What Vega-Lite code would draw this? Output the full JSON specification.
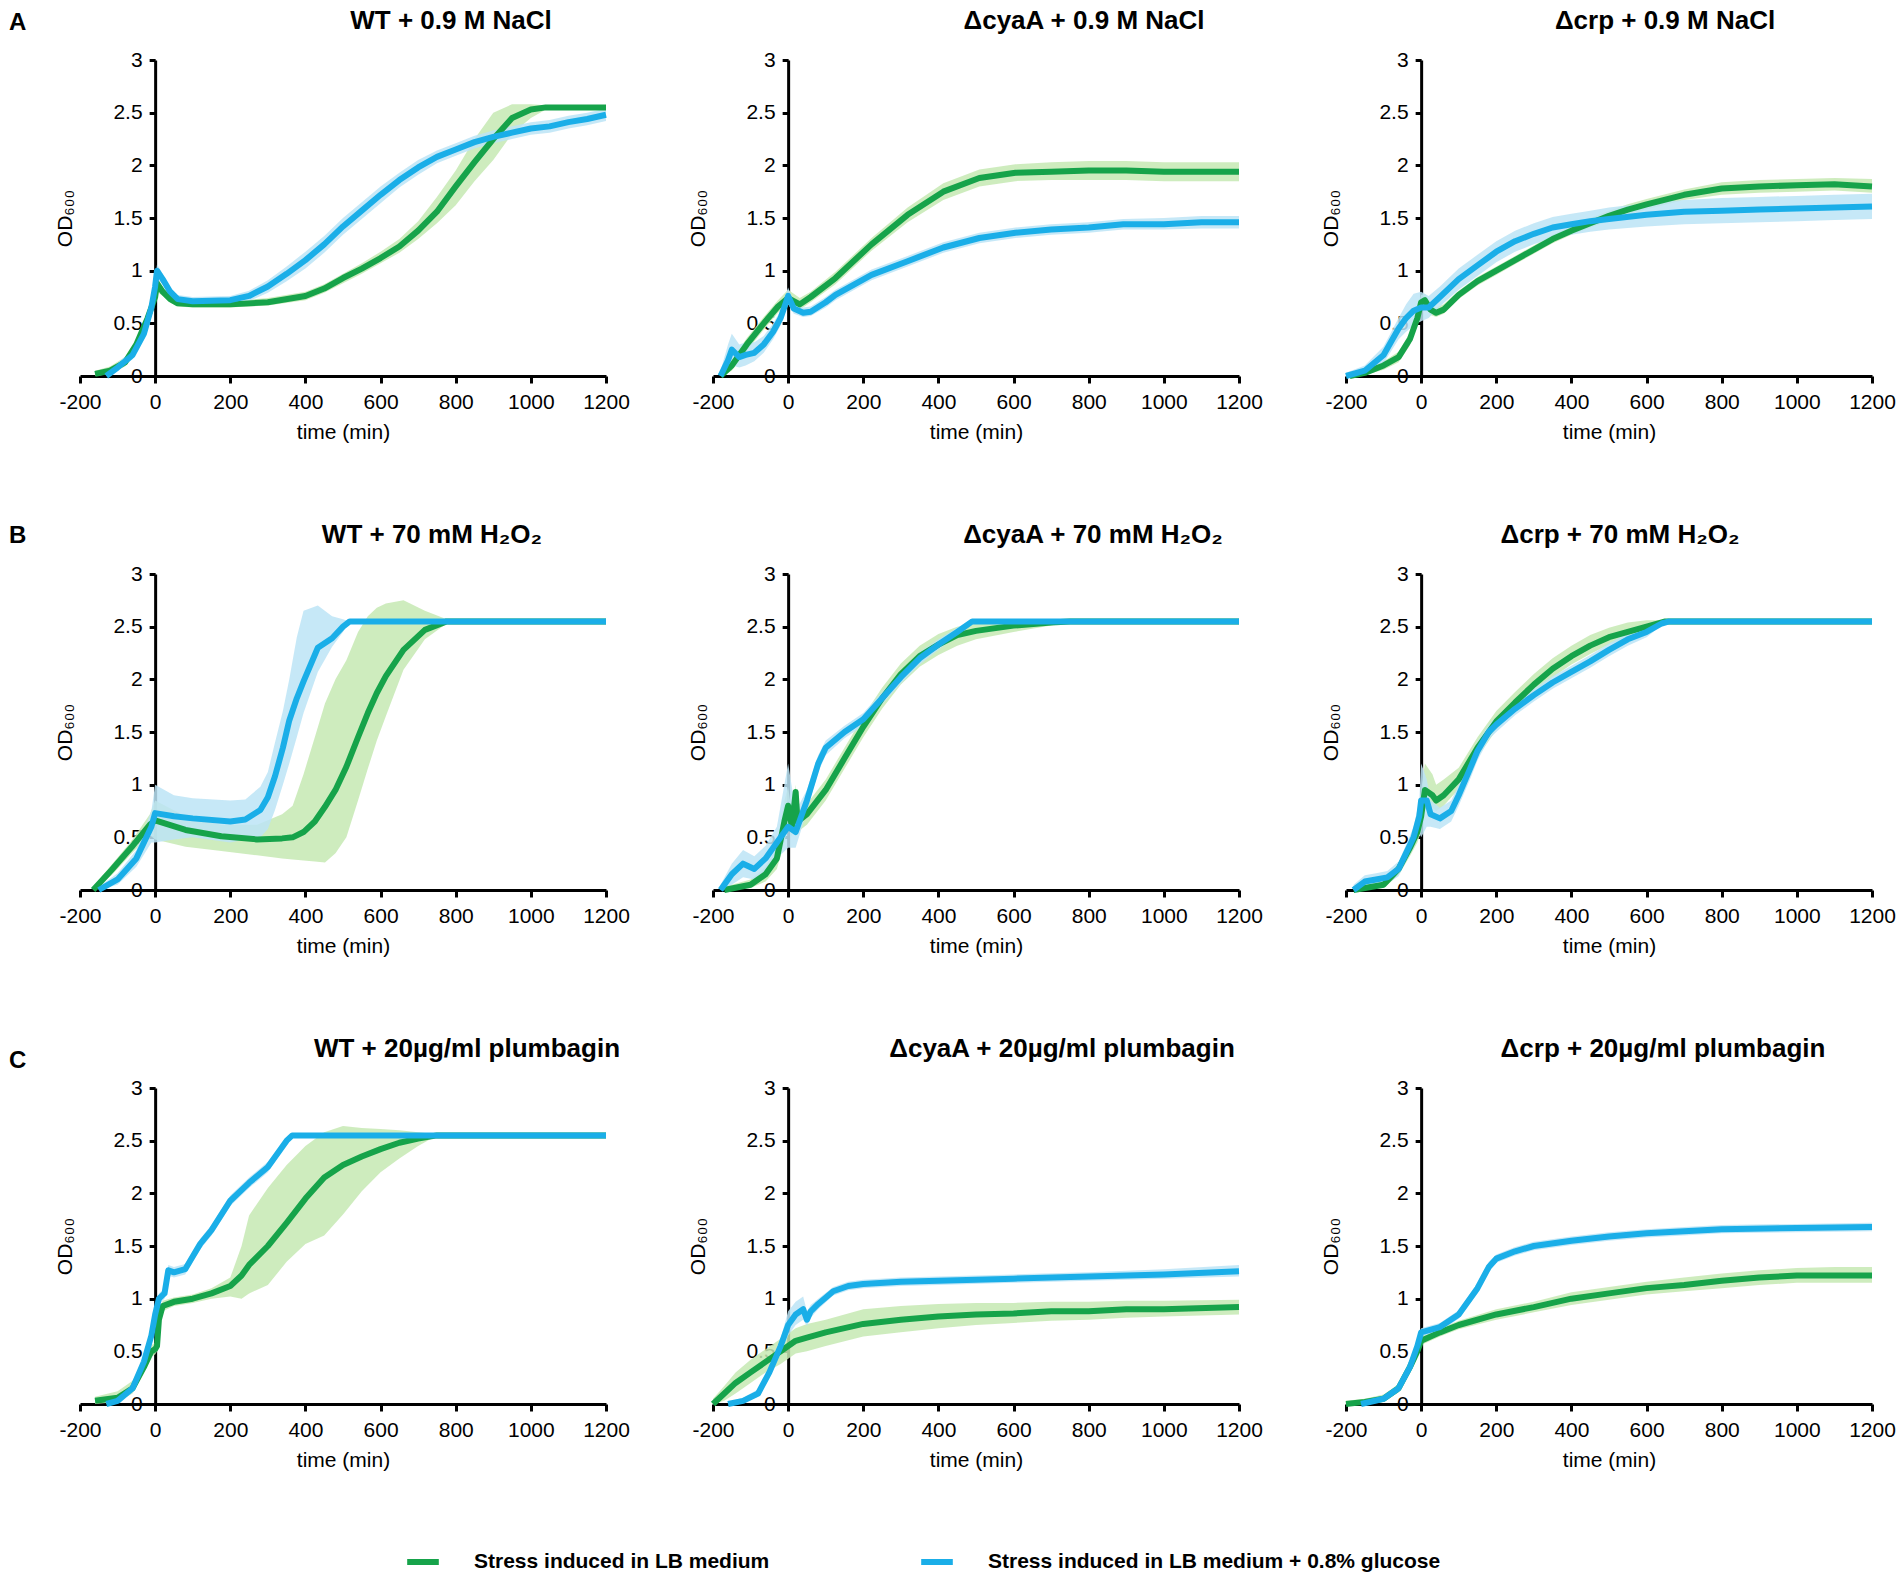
{
"$schema":"https://vega.github.io/schema/vega-lite/v6.json",
"background":"white",
"padding":{"left":9,"top":8,"right":10,"bottom":5},
"config":{
 "font":"Liberation Sans",
 "view":{"stroke":null},
 "title":{"fontSize":26,"fontWeight":"bold","color":"black","anchor":"middle","offset":15,"font":"Liberation Sans"},
 "axis":{"grid":false,"domainColor":"black","domainWidth":3,"tickColor":"black","tickWidth":3,"labelColor":"black","labelFontSize":21,"titleColor":"black","titleFontSize":21,"titleFontWeight":"normal","labelFont":"Liberation Sans","titleFont":"Liberation Sans"},
 "legend":{"orient":"none","legendX":324,"legendY":1483,"direction":"horizontal","symbolType":"stroke","symbolSize":1000,"symbolStrokeWidth":6,"labelFontSize":21,"labelFontWeight":"bold","labelColor":"black","labelLimit":700,"labelOffset":32,"columnPadding":139}
},
"data":{"values":[
{"panel":"A1","series":"LB","time":-160,"od":0.02,"lo":0,"hi":0.05},
{"panel":"A1","series":"LB","time":-120,"od":0.05,"lo":0.02,"hi":0.09},
{"panel":"A1","series":"LB","time":-80,"od":0.13,"lo":0.09,"hi":0.18},
{"panel":"A1","series":"LB","time":-50,"od":0.3,"lo":0.26,"hi":0.34},
{"panel":"A1","series":"LB","time":-20,"od":0.55,"lo":0.5,"hi":0.6},
{"panel":"A1","series":"LB","time":0,"od":0.75,"lo":0.7,"hi":0.82},
{"panel":"A1","series":"LB","time":5,"od":0.88,"lo":0.8,"hi":0.95},
{"panel":"A1","series":"LB","time":20,"od":0.8,"lo":0.76,"hi":0.84},
{"panel":"A1","series":"LB","time":40,"od":0.73,"lo":0.7,"hi":0.76},
{"panel":"A1","series":"LB","time":60,"od":0.69,"lo":0.66,"hi":0.72},
{"panel":"A1","series":"LB","time":100,"od":0.68,"lo":0.65,"hi":0.71},
{"panel":"A1","series":"LB","time":200,"od":0.68,"lo":0.65,"hi":0.71},
{"panel":"A1","series":"LB","time":300,"od":0.7,"lo":0.67,"hi":0.74},
{"panel":"A1","series":"LB","time":400,"od":0.76,"lo":0.72,"hi":0.8},
{"panel":"A1","series":"LB","time":450,"od":0.83,"lo":0.79,"hi":0.87},
{"panel":"A1","series":"LB","time":500,"od":0.93,"lo":0.88,"hi":0.97},
{"panel":"A1","series":"LB","time":550,"od":1.02,"lo":0.97,"hi":1.07},
{"panel":"A1","series":"LB","time":600,"od":1.12,"lo":1.07,"hi":1.18},
{"panel":"A1","series":"LB","time":650,"od":1.23,"lo":1.17,"hi":1.3},
{"panel":"A1","series":"LB","time":700,"od":1.38,"lo":1.3,"hi":1.47},
{"panel":"A1","series":"LB","time":750,"od":1.56,"lo":1.45,"hi":1.7},
{"panel":"A1","series":"LB","time":800,"od":1.8,"lo":1.62,"hi":1.95},
{"panel":"A1","series":"LB","time":850,"od":2.03,"lo":1.85,"hi":2.25},
{"panel":"A1","series":"LB","time":900,"od":2.25,"lo":2.05,"hi":2.5},
{"panel":"A1","series":"LB","time":950,"od":2.45,"lo":2.3,"hi":2.58},
{"panel":"A1","series":"LB","time":1000,"od":2.53,"lo":2.45,"hi":2.58},
{"panel":"A1","series":"LB","time":1040,"od":2.55,"lo":2.53,"hi":2.57},
{"panel":"A1","series":"LB","time":1100,"od":2.55,"lo":2.55,"hi":2.55},
{"panel":"A1","series":"LB","time":1200,"od":2.55,"lo":2.55,"hi":2.55},
{"panel":"A2","series":"LB","time":-180,"od":0,"lo":0,"hi":0.03},
{"panel":"A2","series":"LB","time":-150,"od":0.1,"lo":0.05,"hi":0.15},
{"panel":"A2","series":"LB","time":-110,"od":0.3,"lo":0.24,"hi":0.36},
{"panel":"A2","series":"LB","time":-65,"od":0.5,"lo":0.44,"hi":0.56},
{"panel":"A2","series":"LB","time":-27,"od":0.66,"lo":0.6,"hi":0.72},
{"panel":"A2","series":"LB","time":0,"od":0.74,"lo":0.68,"hi":0.82},
{"panel":"A2","series":"LB","time":31,"od":0.68,"lo":0.63,"hi":0.74},
{"panel":"A2","series":"LB","time":60,"od":0.75,"lo":0.7,"hi":0.8},
{"panel":"A2","series":"LB","time":126,"od":0.93,"lo":0.87,"hi":0.99},
{"panel":"A2","series":"LB","time":222,"od":1.25,"lo":1.19,"hi":1.31},
{"panel":"A2","series":"LB","time":318,"od":1.53,"lo":1.46,"hi":1.6},
{"panel":"A2","series":"LB","time":413,"od":1.75,"lo":1.67,"hi":1.83},
{"panel":"A2","series":"LB","time":509,"od":1.88,"lo":1.8,"hi":1.96},
{"panel":"A2","series":"LB","time":605,"od":1.93,"lo":1.85,"hi":2.01},
{"panel":"A2","series":"LB","time":700,"od":1.94,"lo":1.86,"hi":2.03},
{"panel":"A2","series":"LB","time":800,"od":1.95,"lo":1.86,"hi":2.04},
{"panel":"A2","series":"LB","time":900,"od":1.95,"lo":1.86,"hi":2.04},
{"panel":"A2","series":"LB","time":1000,"od":1.94,"lo":1.85,"hi":2.03},
{"panel":"A2","series":"LB","time":1100,"od":1.94,"lo":1.85,"hi":2.03},
{"panel":"A2","series":"LB","time":1200,"od":1.94,"lo":1.85,"hi":2.03},
{"panel":"A3","series":"LB","time":-190,"od":0,"lo":0,"hi":0.03},
{"panel":"A3","series":"LB","time":-150,"od":0.03,"lo":0.01,"hi":0.06},
{"panel":"A3","series":"LB","time":-100,"od":0.1,"lo":0.06,"hi":0.14},
{"panel":"A3","series":"LB","time":-60,"od":0.18,"lo":0.13,"hi":0.23},
{"panel":"A3","series":"LB","time":-30,"od":0.35,"lo":0.29,"hi":0.41},
{"panel":"A3","series":"LB","time":-10,"od":0.55,"lo":0.49,"hi":0.61},
{"panel":"A3","series":"LB","time":0,"od":0.7,"lo":0.63,"hi":0.77},
{"panel":"A3","series":"LB","time":10,"od":0.72,"lo":0.66,"hi":0.78},
{"panel":"A3","series":"LB","time":25,"od":0.63,"lo":0.58,"hi":0.68},
{"panel":"A3","series":"LB","time":40,"od":0.6,"lo":0.56,"hi":0.65},
{"panel":"A3","series":"LB","time":60,"od":0.63,"lo":0.59,"hi":0.68},
{"panel":"A3","series":"LB","time":100,"od":0.77,"lo":0.73,"hi":0.81},
{"panel":"A3","series":"LB","time":150,"od":0.9,"lo":0.86,"hi":0.94},
{"panel":"A3","series":"LB","time":200,"od":1.0,"lo":0.96,"hi":1.04},
{"panel":"A3","series":"LB","time":250,"od":1.1,"lo":1.06,"hi":1.14},
{"panel":"A3","series":"LB","time":300,"od":1.2,"lo":1.16,"hi":1.24},
{"panel":"A3","series":"LB","time":350,"od":1.3,"lo":1.26,"hi":1.34},
{"panel":"A3","series":"LB","time":400,"od":1.38,"lo":1.34,"hi":1.42},
{"panel":"A3","series":"LB","time":450,"od":1.45,"lo":1.41,"hi":1.5},
{"panel":"A3","series":"LB","time":500,"od":1.52,"lo":1.47,"hi":1.57},
{"panel":"A3","series":"LB","time":550,"od":1.58,"lo":1.53,"hi":1.63},
{"panel":"A3","series":"LB","time":600,"od":1.63,"lo":1.58,"hi":1.68},
{"panel":"A3","series":"LB","time":700,"od":1.72,"lo":1.67,"hi":1.77},
{"panel":"A3","series":"LB","time":800,"od":1.78,"lo":1.72,"hi":1.84},
{"panel":"A3","series":"LB","time":900,"od":1.8,"lo":1.74,"hi":1.86},
{"panel":"A3","series":"LB","time":1000,"od":1.81,"lo":1.75,"hi":1.87},
{"panel":"A3","series":"LB","time":1100,"od":1.82,"lo":1.76,"hi":1.88},
{"panel":"A3","series":"LB","time":1200,"od":1.8,"lo":1.74,"hi":1.87},
{"panel":"B1","series":"LB","time":-165,"od":0,"lo":0,"hi":0.03},
{"panel":"B1","series":"LB","time":-116,"od":0.19,"lo":0.14,"hi":0.24},
{"panel":"B1","series":"LB","time":-62,"od":0.41,"lo":0.35,"hi":0.47},
{"panel":"B1","series":"LB","time":-14,"od":0.62,"lo":0.52,"hi":0.72},
{"panel":"B1","series":"LB","time":0,"od":0.66,"lo":0.48,"hi":0.85},
{"panel":"B1","series":"LB","time":81,"od":0.57,"lo":0.41,"hi":0.7},
{"panel":"B1","series":"LB","time":176,"od":0.51,"lo":0.37,"hi":0.62},
{"panel":"B1","series":"LB","time":271,"od":0.48,"lo":0.33,"hi":0.62},
{"panel":"B1","series":"LB","time":338,"od":0.49,"lo":0.3,"hi":0.72},
{"panel":"B1","series":"LB","time":366,"od":0.5,"lo":0.29,"hi":0.8},
{"panel":"B1","series":"LB","time":395,"od":0.55,"lo":0.28,"hi":1.1},
{"panel":"B1","series":"LB","time":425,"od":0.65,"lo":0.27,"hi":1.45},
{"panel":"B1","series":"LB","time":452,"od":0.79,"lo":0.26,"hi":1.77},
{"panel":"B1","series":"LB","time":480,"od":0.95,"lo":0.35,"hi":2.0},
{"panel":"B1","series":"LB","time":509,"od":1.17,"lo":0.5,"hi":2.18},
{"panel":"B1","series":"LB","time":540,"od":1.45,"lo":0.85,"hi":2.45},
{"panel":"B1","series":"LB","time":566,"od":1.68,"lo":1.15,"hi":2.6},
{"panel":"B1","series":"LB","time":590,"od":1.87,"lo":1.42,"hi":2.68},
{"panel":"B1","series":"LB","time":614,"od":2.03,"lo":1.65,"hi":2.72},
{"panel":"B1","series":"LB","time":661,"od":2.28,"lo":2.09,"hi":2.75},
{"panel":"B1","series":"LB","time":718,"od":2.47,"lo":2.38,"hi":2.65},
{"panel":"B1","series":"LB","time":776,"od":2.55,"lo":2.53,"hi":2.57},
{"panel":"B1","series":"LB","time":1200,"od":2.55,"lo":2.55,"hi":2.55},
{"panel":"B2","series":"LB","time":-170,"od":0,"lo":0,"hi":0.03},
{"panel":"B2","series":"LB","time":-100,"od":0.05,"lo":0.02,"hi":0.1},
{"panel":"B2","series":"LB","time":-60,"od":0.15,"lo":0.08,"hi":0.22},
{"panel":"B2","series":"LB","time":-30,"od":0.3,"lo":0.2,"hi":0.4},
{"panel":"B2","series":"LB","time":-10,"od":0.65,"lo":0.45,"hi":0.85},
{"panel":"B2","series":"LB","time":0,"od":0.8,"lo":0.6,"hi":0.98},
{"panel":"B2","series":"LB","time":10,"od":0.6,"lo":0.5,"hi":0.72},
{"panel":"B2","series":"LB","time":20,"od":0.93,"lo":0.8,"hi":1.0},
{"panel":"B2","series":"LB","time":25,"od":0.65,"lo":0.55,"hi":0.75},
{"panel":"B2","series":"LB","time":50,"od":0.72,"lo":0.62,"hi":0.82},
{"panel":"B2","series":"LB","time":100,"od":0.95,"lo":0.85,"hi":1.05},
{"panel":"B2","series":"LB","time":150,"od":1.25,"lo":1.15,"hi":1.35},
{"panel":"B2","series":"LB","time":200,"od":1.55,"lo":1.45,"hi":1.65},
{"panel":"B2","series":"LB","time":250,"od":1.82,"lo":1.72,"hi":1.92},
{"panel":"B2","series":"LB","time":300,"od":2.05,"lo":1.95,"hi":2.15},
{"panel":"B2","series":"LB","time":350,"od":2.22,"lo":2.12,"hi":2.32},
{"panel":"B2","series":"LB","time":400,"od":2.33,"lo":2.23,"hi":2.43},
{"panel":"B2","series":"LB","time":450,"od":2.42,"lo":2.32,"hi":2.5},
{"panel":"B2","series":"LB","time":500,"od":2.46,"lo":2.38,"hi":2.53},
{"panel":"B2","series":"LB","time":600,"od":2.51,"lo":2.45,"hi":2.55},
{"panel":"B2","series":"LB","time":700,"od":2.54,"lo":2.51,"hi":2.56},
{"panel":"B2","series":"LB","time":750,"od":2.55,"lo":2.55,"hi":2.55},
{"panel":"B2","series":"LB","time":1200,"od":2.55,"lo":2.55,"hi":2.55},
{"panel":"B3","series":"LB","time":-180,"od":0,"lo":0,"hi":0.03},
{"panel":"B3","series":"LB","time":-100,"od":0.05,"lo":0.02,"hi":0.09},
{"panel":"B3","series":"LB","time":-60,"od":0.2,"lo":0.14,"hi":0.26},
{"panel":"B3","series":"LB","time":-30,"od":0.4,"lo":0.32,"hi":0.48},
{"panel":"B3","series":"LB","time":-10,"od":0.55,"lo":0.45,"hi":0.65},
{"panel":"B3","series":"LB","time":0,"od":0.7,"lo":0.55,"hi":0.95},
{"panel":"B3","series":"LB","time":10,"od":0.95,"lo":0.8,"hi":1.2},
{"panel":"B3","series":"LB","time":30,"od":0.9,"lo":0.78,"hi":1.1},
{"panel":"B3","series":"LB","time":40,"od":0.85,"lo":0.75,"hi":1.0},
{"panel":"B3","series":"LB","time":60,"od":0.9,"lo":0.8,"hi":1.05},
{"panel":"B3","series":"LB","time":100,"od":1.05,"lo":0.96,"hi":1.16},
{"panel":"B3","series":"LB","time":150,"od":1.35,"lo":1.26,"hi":1.45},
{"panel":"B3","series":"LB","time":200,"od":1.6,"lo":1.52,"hi":1.7},
{"panel":"B3","series":"LB","time":250,"od":1.78,"lo":1.7,"hi":1.88},
{"panel":"B3","series":"LB","time":300,"od":1.95,"lo":1.87,"hi":2.05},
{"panel":"B3","series":"LB","time":350,"od":2.1,"lo":2.02,"hi":2.2},
{"panel":"B3","series":"LB","time":400,"od":2.22,"lo":2.14,"hi":2.32},
{"panel":"B3","series":"LB","time":450,"od":2.32,"lo":2.24,"hi":2.42},
{"panel":"B3","series":"LB","time":500,"od":2.4,"lo":2.33,"hi":2.49},
{"panel":"B3","series":"LB","time":550,"od":2.45,"lo":2.39,"hi":2.54},
{"panel":"B3","series":"LB","time":600,"od":2.5,"lo":2.45,"hi":2.56},
{"panel":"B3","series":"LB","time":650,"od":2.55,"lo":2.54,"hi":2.56},
{"panel":"B3","series":"LB","time":1200,"od":2.55,"lo":2.55,"hi":2.55},
{"panel":"C1","series":"LB","time":-160,"od":0.03,"lo":0,"hi":0.07},
{"panel":"C1","series":"LB","time":-100,"od":0.06,"lo":0.02,"hi":0.12},
{"panel":"C1","series":"LB","time":-60,"od":0.15,"lo":0.1,"hi":0.22},
{"panel":"C1","series":"LB","time":-30,"od":0.35,"lo":0.3,"hi":0.42},
{"panel":"C1","series":"LB","time":-10,"od":0.5,"lo":0.45,"hi":0.56},
{"panel":"C1","series":"LB","time":0,"od":0.52,"lo":0.47,"hi":0.58},
{"panel":"C1","series":"LB","time":5,"od":0.55,"lo":0.5,"hi":0.62},
{"panel":"C1","series":"LB","time":10,"od":0.8,"lo":0.74,"hi":0.86},
{"panel":"C1","series":"LB","time":20,"od":0.93,"lo":0.88,"hi":0.98},
{"panel":"C1","series":"LB","time":50,"od":0.97,"lo":0.93,"hi":1.01},
{"panel":"C1","series":"LB","time":100,"od":1.0,"lo":0.96,"hi":1.04},
{"panel":"C1","series":"LB","time":150,"od":1.05,"lo":1.0,"hi":1.1},
{"panel":"C1","series":"LB","time":200,"od":1.12,"lo":1.02,"hi":1.2},
{"panel":"C1","series":"LB","time":230,"od":1.22,"lo":1.0,"hi":1.5},
{"panel":"C1","series":"LB","time":250,"od":1.32,"lo":1.05,"hi":1.79},
{"panel":"C1","series":"LB","time":300,"od":1.5,"lo":1.13,"hi":2.05},
{"panel":"C1","series":"LB","time":350,"od":1.72,"lo":1.35,"hi":2.27},
{"panel":"C1","series":"LB","time":400,"od":1.95,"lo":1.52,"hi":2.45},
{"panel":"C1","series":"LB","time":450,"od":2.15,"lo":1.6,"hi":2.58},
{"panel":"C1","series":"LB","time":500,"od":2.27,"lo":1.8,"hi":2.64},
{"panel":"C1","series":"LB","time":550,"od":2.35,"lo":2.02,"hi":2.62},
{"panel":"C1","series":"LB","time":600,"od":2.42,"lo":2.2,"hi":2.61},
{"panel":"C1","series":"LB","time":650,"od":2.48,"lo":2.33,"hi":2.6},
{"panel":"C1","series":"LB","time":700,"od":2.52,"lo":2.45,"hi":2.58},
{"panel":"C1","series":"LB","time":750,"od":2.55,"lo":2.55,"hi":2.56},
{"panel":"C1","series":"LB","time":1200,"od":2.55,"lo":2.55,"hi":2.55},
{"panel":"C2","series":"LB","time":-200,"od":0,"lo":0,"hi":0.05},
{"panel":"C2","series":"LB","time":-170,"od":0.1,"lo":0.03,"hi":0.17},
{"panel":"C2","series":"LB","time":-140,"od":0.2,"lo":0.1,"hi":0.3},
{"panel":"C2","series":"LB","time":-100,"od":0.3,"lo":0.2,"hi":0.42},
{"panel":"C2","series":"LB","time":-60,"od":0.4,"lo":0.3,"hi":0.52},
{"panel":"C2","series":"LB","time":-20,"od":0.5,"lo":0.38,"hi":0.62},
{"panel":"C2","series":"LB","time":0,"od":0.55,"lo":0.43,"hi":0.67},
{"panel":"C2","series":"LB","time":20,"od":0.6,"lo":0.48,"hi":0.72},
{"panel":"C2","series":"LB","time":50,"od":0.63,"lo":0.5,"hi":0.76},
{"panel":"C2","series":"LB","time":100,"od":0.68,"lo":0.55,"hi":0.8},
{"panel":"C2","series":"LB","time":200,"od":0.76,"lo":0.64,"hi":0.9},
{"panel":"C2","series":"LB","time":300,"od":0.8,"lo":0.68,"hi":0.93},
{"panel":"C2","series":"LB","time":400,"od":0.83,"lo":0.72,"hi":0.95},
{"panel":"C2","series":"LB","time":500,"od":0.85,"lo":0.75,"hi":0.96},
{"panel":"C2","series":"LB","time":600,"od":0.86,"lo":0.77,"hi":0.96},
{"panel":"C2","series":"LB","time":700,"od":0.88,"lo":0.79,"hi":0.97},
{"panel":"C2","series":"LB","time":800,"od":0.88,"lo":0.8,"hi":0.97},
{"panel":"C2","series":"LB","time":900,"od":0.9,"lo":0.82,"hi":0.98},
{"panel":"C2","series":"LB","time":1000,"od":0.9,"lo":0.83,"hi":0.98},
{"panel":"C2","series":"LB","time":1200,"od":0.92,"lo":0.85,"hi":0.99},
{"panel":"C3","series":"LB","time":-200,"od":0,"lo":0,"hi":0.03},
{"panel":"C3","series":"LB","time":-150,"od":0.02,"lo":0,"hi":0.05},
{"panel":"C3","series":"LB","time":-100,"od":0.05,"lo":0.02,"hi":0.09},
{"panel":"C3","series":"LB","time":-60,"od":0.15,"lo":0.11,"hi":0.19},
{"panel":"C3","series":"LB","time":-30,"od":0.35,"lo":0.31,"hi":0.39},
{"panel":"C3","series":"LB","time":-10,"od":0.5,"lo":0.46,"hi":0.54},
{"panel":"C3","series":"LB","time":0,"od":0.6,"lo":0.56,"hi":0.64},
{"panel":"C3","series":"LB","time":50,"od":0.68,"lo":0.64,"hi":0.72},
{"panel":"C3","series":"LB","time":100,"od":0.75,"lo":0.71,"hi":0.79},
{"panel":"C3","series":"LB","time":200,"od":0.85,"lo":0.8,"hi":0.9},
{"panel":"C3","series":"LB","time":300,"od":0.92,"lo":0.87,"hi":0.97},
{"panel":"C3","series":"LB","time":400,"od":1.0,"lo":0.94,"hi":1.06},
{"panel":"C3","series":"LB","time":500,"od":1.05,"lo":0.99,"hi":1.11},
{"panel":"C3","series":"LB","time":600,"od":1.1,"lo":1.04,"hi":1.16},
{"panel":"C3","series":"LB","time":700,"od":1.13,"lo":1.07,"hi":1.2},
{"panel":"C3","series":"LB","time":800,"od":1.17,"lo":1.1,"hi":1.24},
{"panel":"C3","series":"LB","time":900,"od":1.2,"lo":1.13,"hi":1.27},
{"panel":"C3","series":"LB","time":1000,"od":1.22,"lo":1.15,"hi":1.29},
{"panel":"C3","series":"LB","time":1100,"od":1.22,"lo":1.15,"hi":1.3},
{"panel":"C3","series":"LB","time":1200,"od":1.22,"lo":1.15,"hi":1.3},
{"panel":"A1","series":"LB+glucose","time":-130,"od":0,"lo":0,"hi":0.03},
{"panel":"A1","series":"LB+glucose","time":-100,"od":0.08,"lo":0.05,"hi":0.12},
{"panel":"A1","series":"LB+glucose","time":-60,"od":0.2,"lo":0.16,"hi":0.25},
{"panel":"A1","series":"LB+glucose","time":-30,"od":0.4,"lo":0.35,"hi":0.45},
{"panel":"A1","series":"LB+glucose","time":-10,"od":0.65,"lo":0.6,"hi":0.7},
{"panel":"A1","series":"LB+glucose","time":0,"od":0.85,"lo":0.8,"hi":0.92},
{"panel":"A1","series":"LB+glucose","time":5,"od":1.0,"lo":0.93,"hi":1.06},
{"panel":"A1","series":"LB+glucose","time":20,"od":0.92,"lo":0.87,"hi":0.97},
{"panel":"A1","series":"LB+glucose","time":40,"od":0.8,"lo":0.76,"hi":0.84},
{"panel":"A1","series":"LB+glucose","time":60,"od":0.73,"lo":0.7,"hi":0.77},
{"panel":"A1","series":"LB+glucose","time":100,"od":0.71,"lo":0.68,"hi":0.75},
{"panel":"A1","series":"LB+glucose","time":200,"od":0.72,"lo":0.68,"hi":0.76},
{"panel":"A1","series":"LB+glucose","time":250,"od":0.76,"lo":0.71,"hi":0.81},
{"panel":"A1","series":"LB+glucose","time":300,"od":0.85,"lo":0.79,"hi":0.91},
{"panel":"A1","series":"LB+glucose","time":350,"od":0.97,"lo":0.9,"hi":1.04},
{"panel":"A1","series":"LB+glucose","time":400,"od":1.1,"lo":1.02,"hi":1.18},
{"panel":"A1","series":"LB+glucose","time":450,"od":1.25,"lo":1.17,"hi":1.33},
{"panel":"A1","series":"LB+glucose","time":500,"od":1.42,"lo":1.34,"hi":1.5},
{"panel":"A1","series":"LB+glucose","time":550,"od":1.57,"lo":1.49,"hi":1.65},
{"panel":"A1","series":"LB+glucose","time":600,"od":1.72,"lo":1.64,"hi":1.8},
{"panel":"A1","series":"LB+glucose","time":650,"od":1.86,"lo":1.79,"hi":1.93},
{"panel":"A1","series":"LB+glucose","time":700,"od":1.98,"lo":1.91,"hi":2.05},
{"panel":"A1","series":"LB+glucose","time":750,"od":2.08,"lo":2.02,"hi":2.14},
{"panel":"A1","series":"LB+glucose","time":800,"od":2.15,"lo":2.09,"hi":2.21},
{"panel":"A1","series":"LB+glucose","time":850,"od":2.22,"lo":2.16,"hi":2.28},
{"panel":"A1","series":"LB+glucose","time":900,"od":2.27,"lo":2.21,"hi":2.33},
{"panel":"A1","series":"LB+glucose","time":950,"od":2.31,"lo":2.25,"hi":2.37},
{"panel":"A1","series":"LB+glucose","time":1000,"od":2.35,"lo":2.29,"hi":2.41},
{"panel":"A1","series":"LB+glucose","time":1050,"od":2.37,"lo":2.31,"hi":2.43},
{"panel":"A1","series":"LB+glucose","time":1100,"od":2.41,"lo":2.35,"hi":2.47},
{"panel":"A1","series":"LB+glucose","time":1150,"od":2.44,"lo":2.38,"hi":2.5},
{"panel":"A1","series":"LB+glucose","time":1200,"od":2.48,"lo":2.42,"hi":2.54},
{"panel":"A2","series":"LB+glucose","time":-180,"od":0,"lo":0,"hi":0.05},
{"panel":"A2","series":"LB+glucose","time":-160,"od":0.15,"lo":0.05,"hi":0.3},
{"panel":"A2","series":"LB+glucose","time":-150,"od":0.25,"lo":0.1,"hi":0.4},
{"panel":"A2","series":"LB+glucose","time":-130,"od":0.18,"lo":0.08,"hi":0.3},
{"panel":"A2","series":"LB+glucose","time":-113,"od":0.2,"lo":0.1,"hi":0.32},
{"panel":"A2","series":"LB+glucose","time":-90,"od":0.22,"lo":0.14,"hi":0.32},
{"panel":"A2","series":"LB+glucose","time":-65,"od":0.3,"lo":0.22,"hi":0.38},
{"panel":"A2","series":"LB+glucose","time":-40,"od":0.42,"lo":0.35,"hi":0.5},
{"panel":"A2","series":"LB+glucose","time":-20,"od":0.55,"lo":0.48,"hi":0.62},
{"panel":"A2","series":"LB+glucose","time":0,"od":0.76,"lo":0.68,"hi":0.84},
{"panel":"A2","series":"LB+glucose","time":15,"od":0.64,"lo":0.59,"hi":0.7},
{"panel":"A2","series":"LB+glucose","time":40,"od":0.6,"lo":0.56,"hi":0.65},
{"panel":"A2","series":"LB+glucose","time":60,"od":0.61,"lo":0.57,"hi":0.66},
{"panel":"A2","series":"LB+glucose","time":100,"od":0.7,"lo":0.65,"hi":0.75},
{"panel":"A2","series":"LB+glucose","time":126,"od":0.77,"lo":0.72,"hi":0.82},
{"panel":"A2","series":"LB+glucose","time":222,"od":0.96,"lo":0.91,"hi":1.01},
{"panel":"A2","series":"LB+glucose","time":318,"od":1.09,"lo":1.04,"hi":1.14},
{"panel":"A2","series":"LB+glucose","time":413,"od":1.22,"lo":1.17,"hi":1.27},
{"panel":"A2","series":"LB+glucose","time":509,"od":1.31,"lo":1.26,"hi":1.36},
{"panel":"A2","series":"LB+glucose","time":605,"od":1.36,"lo":1.31,"hi":1.41},
{"panel":"A2","series":"LB+glucose","time":700,"od":1.39,"lo":1.34,"hi":1.44},
{"panel":"A2","series":"LB+glucose","time":800,"od":1.41,"lo":1.36,"hi":1.46},
{"panel":"A2","series":"LB+glucose","time":892,"od":1.44,"lo":1.39,"hi":1.49},
{"panel":"A2","series":"LB+glucose","time":1000,"od":1.44,"lo":1.39,"hi":1.5},
{"panel":"A2","series":"LB+glucose","time":1100,"od":1.46,"lo":1.4,"hi":1.52},
{"panel":"A2","series":"LB+glucose","time":1200,"od":1.46,"lo":1.4,"hi":1.52},
{"panel":"A3","series":"LB+glucose","time":-200,"od":0,"lo":0,"hi":0.03},
{"panel":"A3","series":"LB+glucose","time":-150,"od":0.05,"lo":0.02,"hi":0.1},
{"panel":"A3","series":"LB+glucose","time":-100,"od":0.2,"lo":0.12,"hi":0.28},
{"panel":"A3","series":"LB+glucose","time":-60,"od":0.45,"lo":0.35,"hi":0.55},
{"panel":"A3","series":"LB+glucose","time":-40,"od":0.55,"lo":0.42,"hi":0.68},
{"panel":"A3","series":"LB+glucose","time":-20,"od":0.62,"lo":0.48,"hi":0.78},
{"panel":"A3","series":"LB+glucose","time":0,"od":0.65,"lo":0.52,"hi":0.8},
{"panel":"A3","series":"LB+glucose","time":20,"od":0.65,"lo":0.55,"hi":0.76},
{"panel":"A3","series":"LB+glucose","time":50,"od":0.75,"lo":0.66,"hi":0.85},
{"panel":"A3","series":"LB+glucose","time":100,"od":0.92,"lo":0.82,"hi":1.02},
{"panel":"A3","series":"LB+glucose","time":150,"od":1.05,"lo":0.95,"hi":1.15},
{"panel":"A3","series":"LB+glucose","time":200,"od":1.18,"lo":1.08,"hi":1.28},
{"panel":"A3","series":"LB+glucose","time":250,"od":1.28,"lo":1.18,"hi":1.38},
{"panel":"A3","series":"LB+glucose","time":300,"od":1.35,"lo":1.25,"hi":1.45},
{"panel":"A3","series":"LB+glucose","time":350,"od":1.41,"lo":1.31,"hi":1.51},
{"panel":"A3","series":"LB+glucose","time":400,"od":1.44,"lo":1.34,"hi":1.54},
{"panel":"A3","series":"LB+glucose","time":450,"od":1.47,"lo":1.37,"hi":1.57},
{"panel":"A3","series":"LB+glucose","time":500,"od":1.49,"lo":1.39,"hi":1.6},
{"panel":"A3","series":"LB+glucose","time":600,"od":1.53,"lo":1.42,"hi":1.64},
{"panel":"A3","series":"LB+glucose","time":700,"od":1.56,"lo":1.44,"hi":1.67},
{"panel":"A3","series":"LB+glucose","time":800,"od":1.57,"lo":1.45,"hi":1.69},
{"panel":"A3","series":"LB+glucose","time":900,"od":1.58,"lo":1.46,"hi":1.7},
{"panel":"A3","series":"LB+glucose","time":1000,"od":1.59,"lo":1.47,"hi":1.71},
{"panel":"A3","series":"LB+glucose","time":1100,"od":1.6,"lo":1.48,"hi":1.72},
{"panel":"A3","series":"LB+glucose","time":1200,"od":1.61,"lo":1.49,"hi":1.73},
{"panel":"B1","series":"LB+glucose","time":-150,"od":0,"lo":0,"hi":0.03},
{"panel":"B1","series":"LB+glucose","time":-100,"od":0.1,"lo":0.05,"hi":0.16},
{"panel":"B1","series":"LB+glucose","time":-50,"od":0.3,"lo":0.22,"hi":0.38},
{"panel":"B1","series":"LB+glucose","time":-10,"od":0.6,"lo":0.45,"hi":0.75},
{"panel":"B1","series":"LB+glucose","time":0,"od":0.73,"lo":0.45,"hi":1.0},
{"panel":"B1","series":"LB+glucose","time":50,"od":0.7,"lo":0.48,"hi":0.9},
{"panel":"B1","series":"LB+glucose","time":100,"od":0.68,"lo":0.5,"hi":0.87},
{"panel":"B1","series":"LB+glucose","time":200,"od":0.65,"lo":0.45,"hi":0.85},
{"panel":"B1","series":"LB+glucose","time":240,"od":0.67,"lo":0.48,"hi":0.86},
{"panel":"B1","series":"LB+glucose","time":280,"od":0.76,"lo":0.5,"hi":0.98},
{"panel":"B1","series":"LB+glucose","time":300,"od":0.88,"lo":0.58,"hi":1.12},
{"panel":"B1","series":"LB+glucose","time":319,"od":1.08,"lo":0.76,"hi":1.4},
{"panel":"B1","series":"LB+glucose","time":340,"od":1.35,"lo":1.0,"hi":1.7},
{"panel":"B1","series":"LB+glucose","time":357,"od":1.61,"lo":1.2,"hi":2.0},
{"panel":"B1","series":"LB+glucose","time":377,"od":1.82,"lo":1.45,"hi":2.4},
{"panel":"B1","series":"LB+glucose","time":395,"od":1.98,"lo":1.68,"hi":2.65},
{"panel":"B1","series":"LB+glucose","time":433,"od":2.3,"lo":2.07,"hi":2.7},
{"panel":"B1","series":"LB+glucose","time":471,"od":2.39,"lo":2.31,"hi":2.6},
{"panel":"B1","series":"LB+glucose","time":500,"od":2.5,"lo":2.45,"hi":2.57},
{"panel":"B1","series":"LB+glucose","time":518,"od":2.55,"lo":2.55,"hi":2.55},
{"panel":"B1","series":"LB+glucose","time":1200,"od":2.55,"lo":2.55,"hi":2.55},
{"panel":"B2","series":"LB+glucose","time":-180,"od":0,"lo":0,"hi":0.05},
{"panel":"B2","series":"LB+glucose","time":-150,"od":0.15,"lo":0.05,"hi":0.25},
{"panel":"B2","series":"LB+glucose","time":-120,"od":0.25,"lo":0.12,"hi":0.38},
{"panel":"B2","series":"LB+glucose","time":-90,"od":0.2,"lo":0.1,"hi":0.32},
{"panel":"B2","series":"LB+glucose","time":-60,"od":0.3,"lo":0.18,"hi":0.42},
{"panel":"B2","series":"LB+glucose","time":-30,"od":0.45,"lo":0.3,"hi":0.6},
{"panel":"B2","series":"LB+glucose","time":0,"od":0.6,"lo":0.4,"hi":1.2},
{"panel":"B2","series":"LB+glucose","time":20,"od":0.55,"lo":0.4,"hi":0.75},
{"panel":"B2","series":"LB+glucose","time":50,"od":0.85,"lo":0.75,"hi":0.95},
{"panel":"B2","series":"LB+glucose","time":80,"od":1.2,"lo":1.12,"hi":1.28},
{"panel":"B2","series":"LB+glucose","time":100,"od":1.35,"lo":1.28,"hi":1.42},
{"panel":"B2","series":"LB+glucose","time":150,"od":1.5,"lo":1.44,"hi":1.56},
{"panel":"B2","series":"LB+glucose","time":200,"od":1.62,"lo":1.56,"hi":1.68},
{"panel":"B2","series":"LB+glucose","time":250,"od":1.82,"lo":1.76,"hi":1.88},
{"panel":"B2","series":"LB+glucose","time":300,"od":2.02,"lo":1.96,"hi":2.08},
{"panel":"B2","series":"LB+glucose","time":350,"od":2.2,"lo":2.14,"hi":2.26},
{"panel":"B2","series":"LB+glucose","time":400,"od":2.33,"lo":2.28,"hi":2.38},
{"panel":"B2","series":"LB+glucose","time":450,"od":2.45,"lo":2.41,"hi":2.49},
{"panel":"B2","series":"LB+glucose","time":490,"od":2.55,"lo":2.53,"hi":2.57},
{"panel":"B2","series":"LB+glucose","time":1200,"od":2.55,"lo":2.55,"hi":2.55},
{"panel":"B3","series":"LB+glucose","time":-180,"od":0,"lo":0,"hi":0.05},
{"panel":"B3","series":"LB+glucose","time":-150,"od":0.08,"lo":0.02,"hi":0.14},
{"panel":"B3","series":"LB+glucose","time":-120,"od":0.1,"lo":0.04,"hi":0.16},
{"panel":"B3","series":"LB+glucose","time":-90,"od":0.12,"lo":0.06,"hi":0.18},
{"panel":"B3","series":"LB+glucose","time":-60,"od":0.2,"lo":0.13,"hi":0.27},
{"panel":"B3","series":"LB+glucose","time":-40,"od":0.35,"lo":0.27,"hi":0.43},
{"panel":"B3","series":"LB+glucose","time":-20,"od":0.5,"lo":0.4,"hi":0.6},
{"panel":"B3","series":"LB+glucose","time":-5,"od":0.7,"lo":0.55,"hi":0.85},
{"panel":"B3","series":"LB+glucose","time":0,"od":0.85,"lo":0.5,"hi":1.2},
{"panel":"B3","series":"LB+glucose","time":15,"od":0.85,"lo":0.6,"hi":1.05},
{"panel":"B3","series":"LB+glucose","time":25,"od":0.72,"lo":0.6,"hi":0.85},
{"panel":"B3","series":"LB+glucose","time":50,"od":0.68,"lo":0.58,"hi":0.78},
{"panel":"B3","series":"LB+glucose","time":80,"od":0.75,"lo":0.65,"hi":0.85},
{"panel":"B3","series":"LB+glucose","time":100,"od":0.9,"lo":0.8,"hi":1.0},
{"panel":"B3","series":"LB+glucose","time":130,"od":1.15,"lo":1.05,"hi":1.25},
{"panel":"B3","series":"LB+glucose","time":150,"od":1.32,"lo":1.23,"hi":1.41},
{"panel":"B3","series":"LB+glucose","time":180,"od":1.5,"lo":1.43,"hi":1.57},
{"panel":"B3","series":"LB+glucose","time":200,"od":1.57,"lo":1.5,"hi":1.64},
{"panel":"B3","series":"LB+glucose","time":250,"od":1.72,"lo":1.66,"hi":1.78},
{"panel":"B3","series":"LB+glucose","time":300,"od":1.85,"lo":1.79,"hi":1.91},
{"panel":"B3","series":"LB+glucose","time":350,"od":1.97,"lo":1.91,"hi":2.03},
{"panel":"B3","series":"LB+glucose","time":400,"od":2.07,"lo":2.01,"hi":2.13},
{"panel":"B3","series":"LB+glucose","time":450,"od":2.17,"lo":2.11,"hi":2.23},
{"panel":"B3","series":"LB+glucose","time":500,"od":2.28,"lo":2.22,"hi":2.34},
{"panel":"B3","series":"LB+glucose","time":550,"od":2.38,"lo":2.32,"hi":2.44},
{"panel":"B3","series":"LB+glucose","time":600,"od":2.45,"lo":2.4,"hi":2.5},
{"panel":"B3","series":"LB+glucose","time":640,"od":2.53,"lo":2.51,"hi":2.55},
{"panel":"B3","series":"LB+glucose","time":660,"od":2.55,"lo":2.55,"hi":2.55},
{"panel":"B3","series":"LB+glucose","time":1200,"od":2.55,"lo":2.55,"hi":2.55},
{"panel":"C1","series":"LB+glucose","time":-130,"od":0,"lo":0,"hi":0.02},
{"panel":"C1","series":"LB+glucose","time":-100,"od":0.03,"lo":0.01,"hi":0.06},
{"panel":"C1","series":"LB+glucose","time":-60,"od":0.15,"lo":0.11,"hi":0.19},
{"panel":"C1","series":"LB+glucose","time":-30,"od":0.4,"lo":0.35,"hi":0.45},
{"panel":"C1","series":"LB+glucose","time":-10,"od":0.65,"lo":0.6,"hi":0.7},
{"panel":"C1","series":"LB+glucose","time":0,"od":0.85,"lo":0.8,"hi":0.9},
{"panel":"C1","series":"LB+glucose","time":10,"od":1.0,"lo":0.95,"hi":1.05},
{"panel":"C1","series":"LB+glucose","time":25,"od":1.05,"lo":1.0,"hi":1.1},
{"panel":"C1","series":"LB+glucose","time":35,"od":1.27,"lo":1.22,"hi":1.32},
{"panel":"C1","series":"LB+glucose","time":50,"od":1.25,"lo":1.2,"hi":1.3},
{"panel":"C1","series":"LB+glucose","time":80,"od":1.28,"lo":1.23,"hi":1.33},
{"panel":"C1","series":"LB+glucose","time":100,"od":1.4,"lo":1.35,"hi":1.45},
{"panel":"C1","series":"LB+glucose","time":120,"od":1.52,"lo":1.47,"hi":1.57},
{"panel":"C1","series":"LB+glucose","time":150,"od":1.65,"lo":1.6,"hi":1.7},
{"panel":"C1","series":"LB+glucose","time":200,"od":1.93,"lo":1.88,"hi":1.98},
{"panel":"C1","series":"LB+glucose","time":250,"od":2.1,"lo":2.05,"hi":2.15},
{"panel":"C1","series":"LB+glucose","time":300,"od":2.25,"lo":2.2,"hi":2.3},
{"panel":"C1","series":"LB+glucose","time":330,"od":2.4,"lo":2.36,"hi":2.44},
{"panel":"C1","series":"LB+glucose","time":350,"od":2.5,"lo":2.47,"hi":2.53},
{"panel":"C1","series":"LB+glucose","time":365,"od":2.55,"lo":2.55,"hi":2.55},
{"panel":"C1","series":"LB+glucose","time":1200,"od":2.55,"lo":2.55,"hi":2.55},
{"panel":"C2","series":"LB+glucose","time":-160,"od":0,"lo":0,"hi":0.02},
{"panel":"C2","series":"LB+glucose","time":-120,"od":0.03,"lo":0.01,"hi":0.06},
{"panel":"C2","series":"LB+glucose","time":-80,"od":0.1,"lo":0.07,"hi":0.14},
{"panel":"C2","series":"LB+glucose","time":-50,"od":0.3,"lo":0.25,"hi":0.35},
{"panel":"C2","series":"LB+glucose","time":-20,"od":0.55,"lo":0.48,"hi":0.62},
{"panel":"C2","series":"LB+glucose","time":0,"od":0.75,"lo":0.65,"hi":0.88},
{"panel":"C2","series":"LB+glucose","time":20,"od":0.85,"lo":0.75,"hi":0.97},
{"panel":"C2","series":"LB+glucose","time":40,"od":0.9,"lo":0.8,"hi":1.02},
{"panel":"C2","series":"LB+glucose","time":50,"od":0.8,"lo":0.74,"hi":0.88},
{"panel":"C2","series":"LB+glucose","time":60,"od":0.88,"lo":0.82,"hi":0.94},
{"panel":"C2","series":"LB+glucose","time":80,"od":0.95,"lo":0.9,"hi":1.0},
{"panel":"C2","series":"LB+glucose","time":120,"od":1.07,"lo":1.03,"hi":1.11},
{"panel":"C2","series":"LB+glucose","time":160,"od":1.12,"lo":1.08,"hi":1.16},
{"panel":"C2","series":"LB+glucose","time":200,"od":1.14,"lo":1.1,"hi":1.18},
{"panel":"C2","series":"LB+glucose","time":300,"od":1.16,"lo":1.12,"hi":1.2},
{"panel":"C2","series":"LB+glucose","time":400,"od":1.17,"lo":1.13,"hi":1.21},
{"panel":"C2","series":"LB+glucose","time":600,"od":1.19,"lo":1.15,"hi":1.23},
{"panel":"C2","series":"LB+glucose","time":800,"od":1.21,"lo":1.17,"hi":1.25},
{"panel":"C2","series":"LB+glucose","time":1000,"od":1.23,"lo":1.19,"hi":1.28},
{"panel":"C2","series":"LB+glucose","time":1200,"od":1.26,"lo":1.21,"hi":1.32},
{"panel":"C3","series":"LB+glucose","time":-160,"od":0,"lo":0,"hi":0.02},
{"panel":"C3","series":"LB+glucose","time":-100,"od":0.05,"lo":0.03,"hi":0.07},
{"panel":"C3","series":"LB+glucose","time":-60,"od":0.15,"lo":0.12,"hi":0.18},
{"panel":"C3","series":"LB+glucose","time":-30,"od":0.35,"lo":0.31,"hi":0.39},
{"panel":"C3","series":"LB+glucose","time":-10,"od":0.55,"lo":0.5,"hi":0.6},
{"panel":"C3","series":"LB+glucose","time":0,"od":0.68,"lo":0.64,"hi":0.72},
{"panel":"C3","series":"LB+glucose","time":50,"od":0.73,"lo":0.69,"hi":0.77},
{"panel":"C3","series":"LB+glucose","time":100,"od":0.85,"lo":0.81,"hi":0.89},
{"panel":"C3","series":"LB+glucose","time":150,"od":1.1,"lo":1.05,"hi":1.15},
{"panel":"C3","series":"LB+glucose","time":180,"od":1.3,"lo":1.25,"hi":1.35},
{"panel":"C3","series":"LB+glucose","time":200,"od":1.38,"lo":1.34,"hi":1.42},
{"panel":"C3","series":"LB+glucose","time":250,"od":1.45,"lo":1.41,"hi":1.49},
{"panel":"C3","series":"LB+glucose","time":300,"od":1.5,"lo":1.46,"hi":1.54},
{"panel":"C3","series":"LB+glucose","time":400,"od":1.55,"lo":1.51,"hi":1.59},
{"panel":"C3","series":"LB+glucose","time":500,"od":1.59,"lo":1.55,"hi":1.63},
{"panel":"C3","series":"LB+glucose","time":600,"od":1.62,"lo":1.58,"hi":1.66},
{"panel":"C3","series":"LB+glucose","time":700,"od":1.64,"lo":1.6,"hi":1.68},
{"panel":"C3","series":"LB+glucose","time":800,"od":1.66,"lo":1.62,"hi":1.7},
{"panel":"C3","series":"LB+glucose","time":1000,"od":1.67,"lo":1.63,"hi":1.71},
{"panel":"C3","series":"LB+glucose","time":1200,"od":1.68,"lo":1.64,"hi":1.72}
]},
"spacing":80,
"vconcat":[
{"title":{"text":"A","anchor":"start","frame":"group","dx":-71,"offset":-27,"fontSize":24},"bounds":"flush","spacing":107,"hconcat":[
{"width":526,"height":316,"title":{"text":"WT + 0.9 M NaCl","dx":108},"transform":[{"filter":"datum.panel == 'A1'"}],
 "encoding":{"x":{"field":"time","type":"quantitative","scale":{"domain":[-200,1200],"nice":false,"zero":false},"axis":{"values":[-200,0,200,400,600,800,1000,1200],"labelExpr":"'' + datum.value","title":"time (min)","tickSize":7,"labelPadding":8,"titlePadding":9,"labelFlush":false}}},
 "layer":[
  {"mark":{"type":"area","opacity":0.85},"encoding":{"y":{"field":"lo","type":"quantitative","scale":{"domain":[0,3],"nice":false},"axis":{"values":[0,0.5,1,1.5,2,2.5,3],"labelExpr":"'' + datum.value","title":"OD₆₀₀","offset":-75.14,"titleX":-80,"tickSize":6,"labelPadding":7}},"y2":{"field":"hi"},"fill":{"field":"series","type":"nominal","scale":{"range":["#c5e9b3","#bce4f6"]},"legend":null}}},
  {"mark":{"type":"line","strokeWidth":6,"strokeJoin":"round"},"encoding":{"y":{"field":"od","type":"quantitative","scale":{"domain":[0,3],"nice":false},"axis":{"values":[0,0.5,1,1.5,2,2.5,3],"labelExpr":"'' + datum.value","title":"OD₆₀₀","offset":-75.14,"titleX":-80,"tickSize":6,"labelPadding":7}},"color":{"field":"series","type":"nominal","scale":{"domain":["LB","LB+glucose"],"range":["#16a34a","#1aaee8"]},"legend":{"title":null,"labelExpr":"datum.label == 'LB' ? 'Stress induced in LB medium' : 'Stress induced in LB medium + 0.8% glucose'"}}}}
 ]},
{"width":526,"height":316,"title":{"text":"ΔcyaA + 0.9 M NaCl","dx":108},"transform":[{"filter":"datum.panel == 'A2'"}],
 "encoding":{"x":{"field":"time","type":"quantitative","scale":{"domain":[-200,1200],"nice":false,"zero":false},"axis":{"values":[-200,0,200,400,600,800,1000,1200],"labelExpr":"'' + datum.value","title":"time (min)","tickSize":7,"labelPadding":8,"titlePadding":9,"labelFlush":false}}},
 "layer":[
  {"mark":{"type":"area","opacity":0.85},"encoding":{"y":{"field":"lo","type":"quantitative","scale":{"domain":[0,3],"nice":false},"axis":{"values":[0,0.5,1,1.5,2,2.5,3],"labelExpr":"'' + datum.value","title":"OD₆₀₀","offset":-75.14,"titleX":-80,"tickSize":6,"labelPadding":7}},"y2":{"field":"hi"},"fill":{"field":"series","type":"nominal","scale":{"range":["#c5e9b3","#bce4f6"]},"legend":null}}},
  {"mark":{"type":"line","strokeWidth":6,"strokeJoin":"round"},"encoding":{"y":{"field":"od","type":"quantitative","scale":{"domain":[0,3],"nice":false},"axis":{"values":[0,0.5,1,1.5,2,2.5,3],"labelExpr":"'' + datum.value","title":"OD₆₀₀","offset":-75.14,"titleX":-80,"tickSize":6,"labelPadding":7}},"color":{"field":"series","type":"nominal","scale":{"domain":["LB","LB+glucose"],"range":["#16a34a","#1aaee8"]},"legend":{"title":null,"labelExpr":"datum.label == 'LB' ? 'Stress induced in LB medium' : 'Stress induced in LB medium + 0.8% glucose'"}}}}
 ]},
{"width":526,"height":316,"title":{"text":"Δcrp + 0.9 M NaCl","dx":56},"transform":[{"filter":"datum.panel == 'A3'"}],
 "encoding":{"x":{"field":"time","type":"quantitative","scale":{"domain":[-200,1200],"nice":false,"zero":false},"axis":{"values":[-200,0,200,400,600,800,1000,1200],"labelExpr":"'' + datum.value","title":"time (min)","tickSize":7,"labelPadding":8,"titlePadding":9,"labelFlush":false}}},
 "layer":[
  {"mark":{"type":"area","opacity":0.85},"encoding":{"y":{"field":"lo","type":"quantitative","scale":{"domain":[0,3],"nice":false},"axis":{"values":[0,0.5,1,1.5,2,2.5,3],"labelExpr":"'' + datum.value","title":"OD₆₀₀","offset":-75.14,"titleX":-80,"tickSize":6,"labelPadding":7}},"y2":{"field":"hi"},"fill":{"field":"series","type":"nominal","scale":{"range":["#c5e9b3","#bce4f6"]},"legend":null}}},
  {"mark":{"type":"line","strokeWidth":6,"strokeJoin":"round"},"encoding":{"y":{"field":"od","type":"quantitative","scale":{"domain":[0,3],"nice":false},"axis":{"values":[0,0.5,1,1.5,2,2.5,3],"labelExpr":"'' + datum.value","title":"OD₆₀₀","offset":-75.14,"titleX":-80,"tickSize":6,"labelPadding":7}},"color":{"field":"series","type":"nominal","scale":{"domain":["LB","LB+glucose"],"range":["#16a34a","#1aaee8"]},"legend":{"title":null,"labelExpr":"datum.label == 'LB' ? 'Stress induced in LB medium' : 'Stress induced in LB medium + 0.8% glucose'"}}}}
 ]}
]},
{"title":{"text":"B","anchor":"start","frame":"group","dx":-71,"offset":-26,"fontSize":24},"bounds":"flush","spacing":107,"hconcat":[
{"width":526,"height":316,"title":{"text":"WT + 70 mM H₂O₂","dx":89},"transform":[{"filter":"datum.panel == 'B1'"}],
 "encoding":{"x":{"field":"time","type":"quantitative","scale":{"domain":[-200,1200],"nice":false,"zero":false},"axis":{"values":[-200,0,200,400,600,800,1000,1200],"labelExpr":"'' + datum.value","title":"time (min)","tickSize":7,"labelPadding":8,"titlePadding":9,"labelFlush":false}}},
 "layer":[
  {"mark":{"type":"area","opacity":0.85},"encoding":{"y":{"field":"lo","type":"quantitative","scale":{"domain":[0,3],"nice":false},"axis":{"values":[0,0.5,1,1.5,2,2.5,3],"labelExpr":"'' + datum.value","title":"OD₆₀₀","offset":-75.14,"titleX":-80,"tickSize":6,"labelPadding":7}},"y2":{"field":"hi"},"fill":{"field":"series","type":"nominal","scale":{"range":["#c5e9b3","#bce4f6"]},"legend":null}}},
  {"mark":{"type":"line","strokeWidth":6,"strokeJoin":"round"},"encoding":{"y":{"field":"od","type":"quantitative","scale":{"domain":[0,3],"nice":false},"axis":{"values":[0,0.5,1,1.5,2,2.5,3],"labelExpr":"'' + datum.value","title":"OD₆₀₀","offset":-75.14,"titleX":-80,"tickSize":6,"labelPadding":7}},"color":{"field":"series","type":"nominal","scale":{"domain":["LB","LB+glucose"],"range":["#16a34a","#1aaee8"]},"legend":{"title":null,"labelExpr":"datum.label == 'LB' ? 'Stress induced in LB medium' : 'Stress induced in LB medium + 0.8% glucose'"}}}}
 ]},
{"width":526,"height":316,"title":{"text":"ΔcyaA + 70 mM H₂O₂","dx":117},"transform":[{"filter":"datum.panel == 'B2'"}],
 "encoding":{"x":{"field":"time","type":"quantitative","scale":{"domain":[-200,1200],"nice":false,"zero":false},"axis":{"values":[-200,0,200,400,600,800,1000,1200],"labelExpr":"'' + datum.value","title":"time (min)","tickSize":7,"labelPadding":8,"titlePadding":9,"labelFlush":false}}},
 "layer":[
  {"mark":{"type":"area","opacity":0.85},"encoding":{"y":{"field":"lo","type":"quantitative","scale":{"domain":[0,3],"nice":false},"axis":{"values":[0,0.5,1,1.5,2,2.5,3],"labelExpr":"'' + datum.value","title":"OD₆₀₀","offset":-75.14,"titleX":-80,"tickSize":6,"labelPadding":7}},"y2":{"field":"hi"},"fill":{"field":"series","type":"nominal","scale":{"range":["#c5e9b3","#bce4f6"]},"legend":null}}},
  {"mark":{"type":"line","strokeWidth":6,"strokeJoin":"round"},"encoding":{"y":{"field":"od","type":"quantitative","scale":{"domain":[0,3],"nice":false},"axis":{"values":[0,0.5,1,1.5,2,2.5,3],"labelExpr":"'' + datum.value","title":"OD₆₀₀","offset":-75.14,"titleX":-80,"tickSize":6,"labelPadding":7}},"color":{"field":"series","type":"nominal","scale":{"domain":["LB","LB+glucose"],"range":["#16a34a","#1aaee8"]},"legend":{"title":null,"labelExpr":"datum.label == 'LB' ? 'Stress induced in LB medium' : 'Stress induced in LB medium + 0.8% glucose'"}}}}
 ]},
{"width":526,"height":316,"title":{"text":"Δcrp + 70 mM H₂O₂","dx":11},"transform":[{"filter":"datum.panel == 'B3'"}],
 "encoding":{"x":{"field":"time","type":"quantitative","scale":{"domain":[-200,1200],"nice":false,"zero":false},"axis":{"values":[-200,0,200,400,600,800,1000,1200],"labelExpr":"'' + datum.value","title":"time (min)","tickSize":7,"labelPadding":8,"titlePadding":9,"labelFlush":false}}},
 "layer":[
  {"mark":{"type":"area","opacity":0.85},"encoding":{"y":{"field":"lo","type":"quantitative","scale":{"domain":[0,3],"nice":false},"axis":{"values":[0,0.5,1,1.5,2,2.5,3],"labelExpr":"'' + datum.value","title":"OD₆₀₀","offset":-75.14,"titleX":-80,"tickSize":6,"labelPadding":7}},"y2":{"field":"hi"},"fill":{"field":"series","type":"nominal","scale":{"range":["#c5e9b3","#bce4f6"]},"legend":null}}},
  {"mark":{"type":"line","strokeWidth":6,"strokeJoin":"round"},"encoding":{"y":{"field":"od","type":"quantitative","scale":{"domain":[0,3],"nice":false},"axis":{"values":[0,0.5,1,1.5,2,2.5,3],"labelExpr":"'' + datum.value","title":"OD₆₀₀","offset":-75.14,"titleX":-80,"tickSize":6,"labelPadding":7}},"color":{"field":"series","type":"nominal","scale":{"domain":["LB","LB+glucose"],"range":["#16a34a","#1aaee8"]},"legend":{"title":null,"labelExpr":"datum.label == 'LB' ? 'Stress induced in LB medium' : 'Stress induced in LB medium + 0.8% glucose'"}}}}
 ]}
]},
{"title":{"text":"C","anchor":"start","frame":"group","dx":-71,"offset":-37,"fontSize":24},"bounds":"flush","spacing":107,"hconcat":[
{"width":526,"height":316,"title":{"text":"WT + 20µg/ml plumbagin","dx":124},"transform":[{"filter":"datum.panel == 'C1'"}],
 "encoding":{"x":{"field":"time","type":"quantitative","scale":{"domain":[-200,1200],"nice":false,"zero":false},"axis":{"values":[-200,0,200,400,600,800,1000,1200],"labelExpr":"'' + datum.value","title":"time (min)","tickSize":7,"labelPadding":8,"titlePadding":9,"labelFlush":false}}},
 "layer":[
  {"mark":{"type":"area","opacity":0.85},"encoding":{"y":{"field":"lo","type":"quantitative","scale":{"domain":[0,3],"nice":false},"axis":{"values":[0,0.5,1,1.5,2,2.5,3],"labelExpr":"'' + datum.value","title":"OD₆₀₀","offset":-75.14,"titleX":-80,"tickSize":6,"labelPadding":7}},"y2":{"field":"hi"},"fill":{"field":"series","type":"nominal","scale":{"range":["#c5e9b3","#bce4f6"]},"legend":null}}},
  {"mark":{"type":"line","strokeWidth":6,"strokeJoin":"round"},"encoding":{"y":{"field":"od","type":"quantitative","scale":{"domain":[0,3],"nice":false},"axis":{"values":[0,0.5,1,1.5,2,2.5,3],"labelExpr":"'' + datum.value","title":"OD₆₀₀","offset":-75.14,"titleX":-80,"tickSize":6,"labelPadding":7}},"color":{"field":"series","type":"nominal","scale":{"domain":["LB","LB+glucose"],"range":["#16a34a","#1aaee8"]},"legend":{"title":null,"labelExpr":"datum.label == 'LB' ? 'Stress induced in LB medium' : 'Stress induced in LB medium + 0.8% glucose'"}}}}
 ]},
{"width":526,"height":316,"title":{"text":"ΔcyaA + 20µg/ml plumbagin","dx":86},"transform":[{"filter":"datum.panel == 'C2'"}],
 "encoding":{"x":{"field":"time","type":"quantitative","scale":{"domain":[-200,1200],"nice":false,"zero":false},"axis":{"values":[-200,0,200,400,600,800,1000,1200],"labelExpr":"'' + datum.value","title":"time (min)","tickSize":7,"labelPadding":8,"titlePadding":9,"labelFlush":false}}},
 "layer":[
  {"mark":{"type":"area","opacity":0.85},"encoding":{"y":{"field":"lo","type":"quantitative","scale":{"domain":[0,3],"nice":false},"axis":{"values":[0,0.5,1,1.5,2,2.5,3],"labelExpr":"'' + datum.value","title":"OD₆₀₀","offset":-75.14,"titleX":-80,"tickSize":6,"labelPadding":7}},"y2":{"field":"hi"},"fill":{"field":"series","type":"nominal","scale":{"range":["#c5e9b3","#bce4f6"]},"legend":null}}},
  {"mark":{"type":"line","strokeWidth":6,"strokeJoin":"round"},"encoding":{"y":{"field":"od","type":"quantitative","scale":{"domain":[0,3],"nice":false},"axis":{"values":[0,0.5,1,1.5,2,2.5,3],"labelExpr":"'' + datum.value","title":"OD₆₀₀","offset":-75.14,"titleX":-80,"tickSize":6,"labelPadding":7}},"color":{"field":"series","type":"nominal","scale":{"domain":["LB","LB+glucose"],"range":["#16a34a","#1aaee8"]},"legend":{"title":null,"labelExpr":"datum.label == 'LB' ? 'Stress induced in LB medium' : 'Stress induced in LB medium + 0.8% glucose'"}}}}
 ]},
{"width":526,"height":316,"title":{"text":"Δcrp + 20µg/ml plumbagin","dx":54},"transform":[{"filter":"datum.panel == 'C3'"}],
 "encoding":{"x":{"field":"time","type":"quantitative","scale":{"domain":[-200,1200],"nice":false,"zero":false},"axis":{"values":[-200,0,200,400,600,800,1000,1200],"labelExpr":"'' + datum.value","title":"time (min)","tickSize":7,"labelPadding":8,"titlePadding":9,"labelFlush":false}}},
 "layer":[
  {"mark":{"type":"area","opacity":0.85},"encoding":{"y":{"field":"lo","type":"quantitative","scale":{"domain":[0,3],"nice":false},"axis":{"values":[0,0.5,1,1.5,2,2.5,3],"labelExpr":"'' + datum.value","title":"OD₆₀₀","offset":-75.14,"titleX":-80,"tickSize":6,"labelPadding":7}},"y2":{"field":"hi"},"fill":{"field":"series","type":"nominal","scale":{"range":["#c5e9b3","#bce4f6"]},"legend":null}}},
  {"mark":{"type":"line","strokeWidth":6,"strokeJoin":"round"},"encoding":{"y":{"field":"od","type":"quantitative","scale":{"domain":[0,3],"nice":false},"axis":{"values":[0,0.5,1,1.5,2,2.5,3],"labelExpr":"'' + datum.value","title":"OD₆₀₀","offset":-75.14,"titleX":-80,"tickSize":6,"labelPadding":7}},"color":{"field":"series","type":"nominal","scale":{"domain":["LB","LB+glucose"],"range":["#16a34a","#1aaee8"]},"legend":{"title":null,"labelExpr":"datum.label == 'LB' ? 'Stress induced in LB medium' : 'Stress induced in LB medium + 0.8% glucose'"}}}}
 ]}
]}
]
}
